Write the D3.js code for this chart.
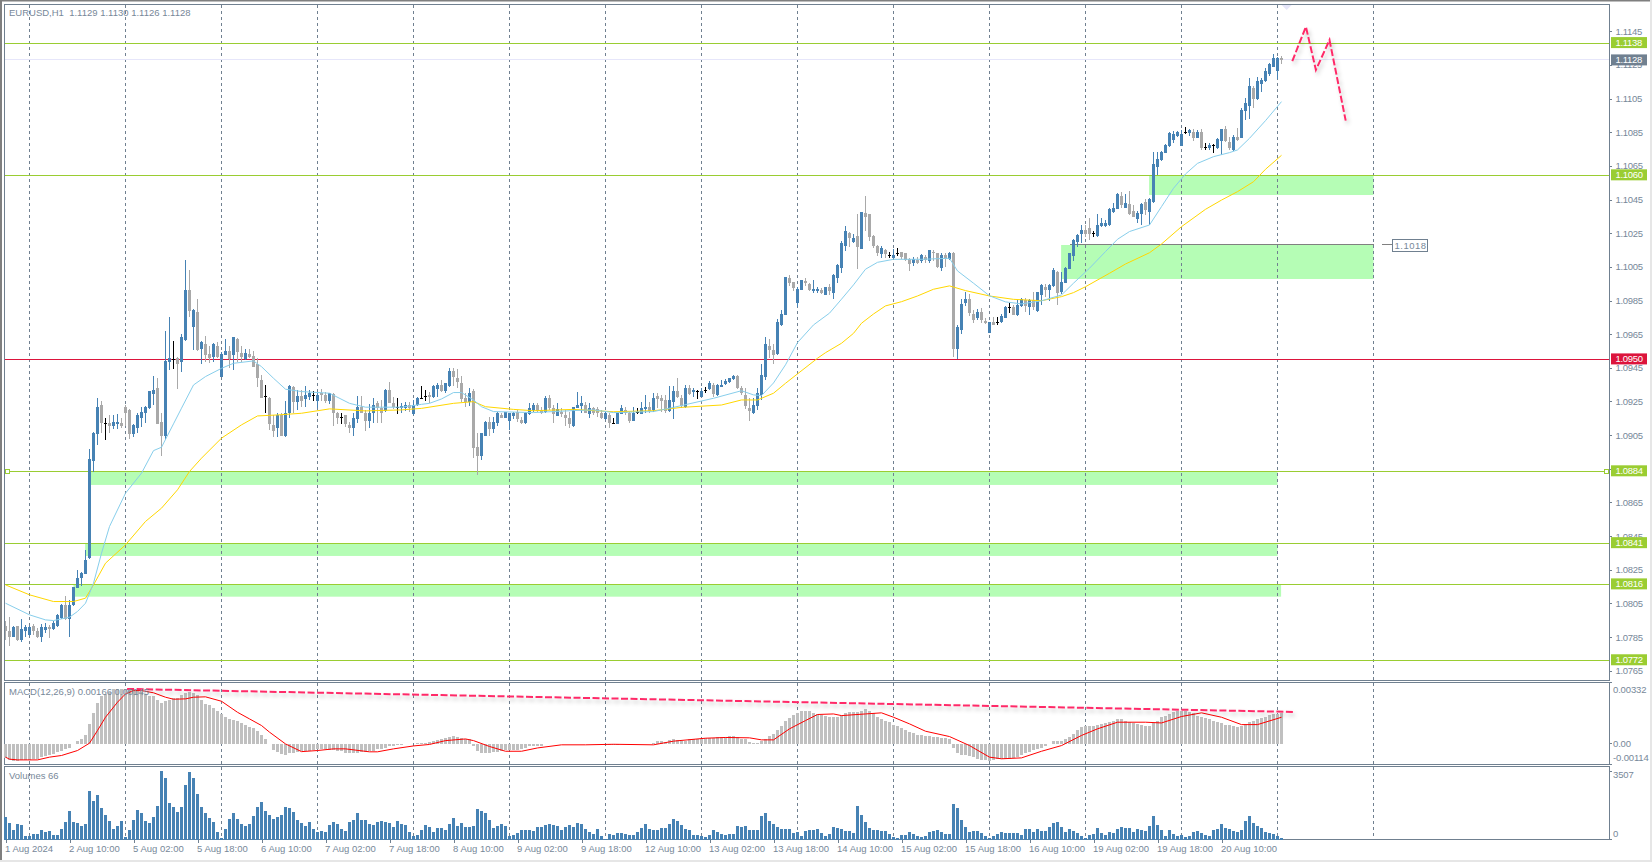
<!DOCTYPE html>
<html><head><meta charset="utf-8">
<script src="https://cdnjs.cloudflare.com/ajax/libs/d3/7.8.5/d3.min.js"></script>
<style>html,body{margin:0;padding:0;background:#fff;overflow:hidden}svg{display:block}</style>
</head><body><svg id="c" width="1652" height="862"></svg>
<script>
// Prices below are in points of 0.00001 (111280 = 1.11280); MACD too.
const opens=[
107917,107885,107853,107917,107834,107883,107863,107917,107883,107853,
107893,107909,107897,107913,107962,108041,107956,108041,108144,108198,
108226,108317,108899,109057,109230,109121,109121,109105,109117,109121,
109216,109200,109057,109095,109150,109184,109210,109295,109328,109129,
109045,109485,109503,109508,109485,109615,109913,109693,109782,109562,
109592,109532,109514,109580,109395,109526,109550,109526,109621,109538,
109502,109532,109520,109473,109378,109283,109271,109110,109092,109170,
109045,109182,109336,109247,109283,109265,109277,109289,109253,109300,
109289,109253,109294,109182,109158,109170,109110,109092,109146,109217,
109182,109134,109182,109241,109211,109193,109318,109241,109217,109211,
109211,109229,109176,109229,109271,109283,109289,109277,109324,109348,
109312,109342,109431,109390,109360,109271,109247,109312,108980,108926,
109045,109128,109086,109122,109170,109152,109134,109164,109188,109140,
109122,109176,109199,109229,109199,109188,109271,109211,109164,109188,
109170,109152,109104,109211,109223,109229,109176,109211,109205,109182,
109146,109170,109122,109116,109176,109199,109182,109134,109188,109176,
109205,109217,109199,109283,109271,109259,109193,109247,109312,109271,
109217,109330,109306,109312,109277,109318,109324,109348,109289,109336,
109354,109366,109384,109401,109330,109289,109211,109182,109223,109289,
109395,109580,109556,109532,109704,109764,109984,109960,109835,109913,
109966,109948,109907,109907,109913,109883,109930,109895,109984,110043,
110174,110251,110198,110233,110156,110370,110364,110233,110174,110127,
110150,110121,110103,110132,110138,110132,110097,110073,110091,110085,
110109,110085,110138,110132,110043,110121,110097,110132,109562,109675,
109835,109859,109770,109746,109782,109728,109657,109722,109722,109722,
109746,109812,109812,109764,109817,109853,109812,109853,109788,109883,
109930,109913,109936,110019,109901,109954,110037,110115,110198,110245,
110269,110281,110251,110233,110293,110293,110299,110376,110394,110471,
110400,110424,110382,110334,110364,110436,110376,110436,110644,110685,
110727,110768,110804,110828,110768,110851,110846,110851,110816,110851,
110762,110756,110774,110756,110798,110869,110792,110745,110822,110816,
110976,111006,111113,111048,111137,111155,111196,111238,111214,111291];
const highs=[
107947,107968,107917,107917,107956,107923,107917,107929,107903,107929,
107933,107923,107948,107988,108047,108091,108071,108150,108249,108237,
108368,108966,109069,109269,109255,109150,109170,109170,109176,109150,
109230,109204,109115,109180,109216,109224,109315,109402,109388,109180,
109669,109752,109609,109514,109651,110091,110031,109800,109859,109609,
109639,109580,109600,109603,109544,109621,109580,109633,109630,109580,
109562,109562,109550,109508,109407,109348,109277,109170,109182,109182,
109253,109348,109342,109318,109318,109342,109318,109312,109306,109324,
109306,109300,109300,109188,109182,109170,109128,109182,109283,109283,
109199,109235,109271,109253,109259,109324,109366,109277,109271,109241,
109247,109247,109259,109277,109342,109318,109306,109348,109360,109378,
109360,109449,109449,109443,109401,109300,109330,109324,109063,109063,
109134,109158,109158,109188,109182,109188,109182,109188,109199,109158,
109188,109241,109241,109241,109217,109283,109289,109229,109241,109211,
109199,109188,109217,109306,109283,109247,109241,109217,109217,109199,
109188,109182,109152,109182,109229,109217,109188,109217,109211,109247,
109289,109247,109300,109300,109289,109289,109342,109342,109390,109289,
109348,109348,109330,109318,109330,109336,109372,109360,109354,109378,
109384,109390,109407,109407,109342,109330,109271,109271,109330,109473,
109633,109621,109592,109740,109794,109990,110002,109960,109930,109972,
109984,109954,109972,109930,109924,109930,109948,110008,110067,110204,
110293,110257,110245,110364,110376,110471,110364,110239,110180,110174,
110156,110138,110156,110162,110138,110132,110103,110109,110109,110127,
110121,110150,110150,110132,110132,110132,110138,110138,109704,109859,
109901,109889,109794,109800,109806,109746,109722,109752,109752,109770,
109817,109835,109823,109853,109865,109865,109859,109901,109901,109948,
109948,109948,110043,110026,110019,110049,110132,110216,110245,110299,
110299,110340,110263,110364,110340,110329,110400,110430,110489,110495,
110483,110501,110418,110382,110430,110453,110459,110733,110733,110739,
110780,110851,110857,110857,110863,110881,110869,110869,110863,110869,
110786,110786,110780,110816,110869,110887,110822,110834,110875,110994,
111054,111172,111125,111178,111172,111232,111262,111315,111297,111303];
const lows=[
107834,107794,107849,107824,107822,107853,107859,107863,107843,107818,
107877,107846,107893,107909,107956,107952,107853,108036,108141,108154,
108224,108313,108832,108994,109061,109022,109065,109089,109085,109091,
109105,109026,109037,109065,109097,109125,109204,109230,109115,108927,
109021,109437,109443,109324,109425,109610,109752,109556,109550,109473,
109485,109479,109485,109508,109395,109526,109449,109437,109485,109485,
109496,109508,109455,109336,109271,109182,109080,109039,109039,109045,
109040,109152,109182,109199,109217,109217,109259,109253,109211,109253,
109241,109235,109104,109116,109116,109098,109063,109045,109122,109182,
109075,109092,109122,109122,109122,109188,109241,109205,109176,109182,
109193,109188,109170,109223,109265,109253,109241,109271,109277,109306,
109300,109336,109342,109330,109247,109217,109223,108914,108813,108902,
109045,109045,109063,109104,109152,109152,109080,109146,109128,109116,
109116,109170,109188,109188,109176,109182,109199,109122,109164,109158,
109104,109092,109098,109211,109182,109182,109152,109170,109158,109146,
109140,109092,109122,109116,109176,109170,109122,109134,109176,109176,
109182,109182,109188,109211,109188,109182,109188,109146,109271,109211,
109211,109289,109277,109265,109277,109300,109318,109277,109283,109336,
109348,109360,109378,109324,109289,109205,109134,109176,109199,109259,
109378,109508,109473,109526,109699,109764,109936,109907,109812,109913,
109936,109907,109895,109895,109889,109883,109883,109859,109954,110014,
110144,110168,110192,110037,110156,110263,110204,110162,110115,110103,
110103,110103,110097,110115,110097,110085,110026,110055,110067,110073,
110073,110073,110085,110043,110026,110049,110091,109514,109502,109651,
109817,109758,109716,109734,109716,109710,109657,109704,109704,109716,
109746,109776,109764,109758,109812,109782,109764,109794,109782,109823,
109871,109847,109930,109823,109889,109954,110037,110085,110168,110192,
110228,110210,110228,110228,110287,110287,110293,110370,110394,110400,
110400,110358,110346,110311,110299,110358,110299,110430,110596,110679,
110727,110762,110786,110822,110768,110840,110828,110798,110816,110745,
110745,110745,110727,110750,110715,110792,110745,110739,110798,110816,
110923,110929,110994,111042,111089,111149,111184,111238,111166,111256];
const closes=[
107883,107853,107909,107834,107897,107909,107909,107883,107853,107909,
107909,107897,107933,107982,108041,107956,108041,108146,108200,108232,
108309,108907,109061,109216,109121,109119,109105,109127,109127,109105,
109184,109057,109111,109170,109186,109216,109311,109319,109117,109045,
109491,109508,109500,109473,109633,109913,109788,109794,109556,109603,
109526,109508,109592,109514,109532,109550,109502,109633,109544,109514,
109538,109514,109455,109390,109271,109280,109116,109075,109170,109045,
109182,109342,109247,109283,109253,109289,109300,109287,109289,109289,
109253,109300,109182,109152,109155,109116,109092,109152,109217,109182,
109134,109182,109229,109211,109182,109318,109241,109217,109215,109223,
109229,109211,109229,109271,109269,109281,109277,109342,109348,109312,
109360,109431,109395,109366,109265,109247,109300,108974,108926,109063,
109128,109086,109128,109182,109152,109188,109182,109182,109146,109122,
109182,109211,109229,109193,109182,109271,109211,109176,109205,109176,
109152,109116,109217,109229,109241,109182,109211,109182,109182,109152,
109182,109122,109120,109182,109211,109182,109134,109182,109186,109211,
109217,109193,109271,109265,109253,109193,109259,109312,109277,109223,
109330,109294,109318,109310,109312,109316,109360,109294,109348,109348,
109372,109390,109401,109330,109300,109223,109193,109229,109300,109407,
109592,109556,109526,109722,109770,109990,109954,109925,109918,109972,
109954,109913,109918,109918,109895,109930,109907,110002,110061,110192,
110263,110222,110222,110168,110376,110346,110228,110174,110132,110162,
110127,110119,110121,110130,110109,110091,110067,110097,110073,110121,
110091,110150,110132,110049,110121,110097,110132,109562,109693,109829,
109859,109776,109734,109782,109734,109716,109722,109704,109720,109758,
109812,109810,109764,109823,109859,109817,109853,109812,109901,109942,
109913,109942,110031,109895,109960,110043,110132,110210,110239,110269,
110245,110245,110249,110299,110311,110311,110394,110400,110483,110418,
110430,110364,110346,110370,110424,110388,110453,110661,110691,110733,
110774,110846,110840,110851,110840,110849,110863,110816,110851,110756,
110760,110774,110772,110810,110869,110798,110756,110822,110804,110982,
111024,111125,111048,111155,111161,111214,111256,111291,111291,111280];
const volumes=[
1152,843,499,774,740,172,172,258,275,482,
396,430,241,241,533,894,1462,894,843,705,
791,2494,1978,2288,1617,1256,946,533,705,946,
120,482,998,1514,1359,946,843,1152,1720,3507,
3165,1875,1668,1410,1668,2804,3480,3165,2339,1668,
1359,1101,894,378,69,533,1049,1359,1049,791,
688,791,1204,1668,1926,1462,1256,1049,1152,1256,
1668,1617,1410,998,843,688,894,533,378,430,
378,740,894,791,533,430,894,998,1359,998,
998,791,740,894,946,894,843,636,946,791,
740,378,172,224,482,740,636,378,585,585,
482,791,1101,688,843,636,636,688,1565,1462,
1359,998,585,688,791,688,172,224,327,482,
482,482,430,636,636,740,791,740,688,499,
636,740,654,826,791,516,396,275,516,172,
40,275,241,327,327,258,241,241,378,585,
791,533,482,482,568,602,808,1049,946,740,
533,482,224,224,172,120,224,482,378,275,
241,275,275,688,636,688,482,482,482,1204,
1359,946,791,636,533,533,533,327,378,172,
430,482,482,533,327,172,275,636,585,533,
430,430,327,1720,1256,894,585,482,482,430,
430,275,120,69,224,224,378,275,172,120,
172,378,430,482,378,275,275,1823,1617,998,
636,378,430,430,327,172,69,172,275,378,
327,327,327,327,224,533,533,378,533,430,
430,636,843,894,636,378,533,430,327,172,
69,224,275,585,327,224,378,327,533,636,
585,585,378,533,482,430,688,1204,740,482,
172,482,275,172,224,120,172,378,430,327,
224,172,482,533,791,585,533,430,378,482,
946,1204,843,688,585,378,327,275,172,66];
const macdHist=[
-78,-92,-96,-96,-92,-92,-89,-85,-82,-74,
-67,-60,-56,-47,-38,-31,-24,-4,13,27,
47,107,165,219,256,270,283,297,299,299,
299,299,299,288,279,270,261,259,238,219,
230,238,245,248,263,277,283,277,265,238,
216,207,194,179,161,143,136,129,125,112,
103,92,82,67,44,22,-2,-33,-44,-56,
-63,-53,-49,-44,-42,-38,-38,-33,-29,-27,
-31,-33,-34,-38,-42,-49,-53,-51,-49,-45,
-44,-42,-38,-31,-27,-24,-16,-13,-9,-9,
-5,-5,-2,5,2,4,7,13,20,24,
29,34,40,38,31,27,24,-11,-38,-49,
-49,-53,-47,-44,-38,-34,-34,-34,-33,-31,
-24,-16,-13,-13,-11,-5,-5,-5,-5,-4,
-4,-5,-4,-2,-2,-2,-2,-2,-4,-5,
-7,-7,-9,-7,-5,-5,-9,-5,-4,-2,
-2,0,4,13,16,11,18,22,20,16,
16,24,27,27,27,29,29,29,33,34,
38,42,42,34,27,22,7,2,5,13,
25,42,53,74,96,125,140,154,165,176,
176,176,165,158,156,150,143,143,145,156,
165,174,174,169,179,187,176,167,147,134,
125,116,103,94,85,74,63,56,49,44,
40,40,38,34,29,29,25,-25,-51,-60,
-60,-69,-74,-82,-89,-92,-96,-92,-85,-85,
-85,-83,-80,-71,-60,-54,-44,-34,-27,-24,
-11,-2,13,13,16,27,38,53,71,89,
98,98,98,103,109,111,116,125,131,131,
125,116,111,105,102,98,96,111,125,143,
149,161,172,176,179,179,170,167,152,147,
138,131,123,116,114,103,100,94,89,94,
105,116,125,134,138,143,154,158,161,166];

// Moving averages and MACD signal, read as vertices: bar number, then value.
const maFastBars=[0,6,10,12,16,18,20,22,24,26,30,34,37,39,42,44,47,50,54,57,62,64,67,70,74,81,86,90,99,104,106,109,112,114,117,119,122,132,142,147,152,162,167,177,184,187,189,192,195,198,202,206,209,212,215,218,222,229,236,238,242,246,250,254,259,264,267,271,275,278,281,286,289,292,295,298,302,306,308,311,315,319];
const maFastVals=[108051,107982,107952,107948,107968,108002,108051,108170,108348,108507,108705,108824,108958,108978,109117,109210,109348,109398,109447,109477,109491,109457,109388,109323,109309,109299,109239,109216,109216,109233,109239,109265,109303,109303,109259,109219,109190,109184,109196,109200,109184,109190,109215,109269,109314,109289,109285,109360,109468,109600,109705,109775,109858,109943,110036,110077,110095,110095,110101,110026,109953,109878,109842,109830,109848,109883,109953,110042,110141,110214,110260,110299,110408,110517,110602,110665,110705,110729,110745,110814,110919,111032];
const maSlowBars=[0,6,12,17,20,22,25,30,35,39,43,46,49,54,59,63,68,74,81,90,99,104,112,117,120,127,132,142,152,162,169,179,184,188,192,195,198,203,205,209,212,214,217,220,224,228,232,236,240,246,252,259,264,267,270,276,280,286,289,294,300,304,308,312,315,319];
const maSlowVals=[108160,108101,108061,108061,108081,108160,108289,108398,108537,108616,108725,108834,108913,109032,109111,109164,109170,109180,109206,109194,109200,109209,109239,109249,109219,109203,109195,109203,109189,109195,109215,109229,109259,109259,109299,109358,109414,109507,109540,109596,109655,109715,109770,109818,109843,109877,109917,109937,109909,109877,109857,109849,109873,109897,109932,110012,110067,110134,110186,110289,110392,110447,110497,110556,110630,110713];
const macdSigBars=[0,1,3,8,11,14,18,21,23,25,28,30,32,34,37,40,42,45,47,50,54,58,61,64,66,70,74,78,82,85,91,93,97,102,106,110,115,117,121,125,129,133,139,145,152,162,167,175,180,186,189,192,196,200,203,207,209,215,219,222,226,230,236,241,246,249,254,259,264,269,273,278,285,289,294,299,304,309,313,319];
const macdSigVals=[-74,-85,-89,-89,-74,-65,-38,2,71,143,225,270,288,288,276,252,241,243,252,254,230,170,134,98,62,-2,-44,-38,-29,-29,-45,-45,-29,-13,-5,16,25,16,-16,-42,-42,-24,-7,-7,-4,-7,13,29,33,31,20,20,80,125,158,161,152,161,167,143,107,67,38,-11,-74,-83,-78,-42,-11,44,80,116,116,112,147,167,143,103,103,143];

// Horizontal levels and hand-drawn objects
const levelVals=[111380,110594,109500,108835,108408,108163,107712];
const levelLabels=["1.1138","1.1060","1.0950","1.0884","1.0841","1.0816","1.0772"];
const levelIsRed=[false,false,true,false,false,false,false];
const zoneBarFrom=[21.3,19.9,17,285.9,263.9];
const zoneBarTo=[318,318,318.9,342,342];
const zoneTop=[108835,108408,108163,110594,110180];
const zoneBottom=[108754,108332,108090,110477,109978];
const forecastBars=[321.7,325.1,327.6,331,335.05];
const forecastVals=[111273,111477,111220,111398,110919];
const divergenceBars=[30.4,322];
const divergenceVals=[297,172];
const hLineBars=[266,342];
const hLineVal=110180;
const gridBars=[6,30,54,78,102,126,150,174,198,222,246,270,294,318,342];
const priceTicks=[111450,111250,111050,110850,110650,110450,110250,110050,109850,109650,109450,109250,109050,108850,108650,108450,108250,108050,107850,107650];
const timeBars=[0,16,32,48,64,80,96,112,128,144,160,176,192,208,224,240,256,272,288,304];
const timeLabels=["1 Aug 2024","2 Aug 10:00","5 Aug 02:00","5 Aug 18:00","6 Aug 10:00","7 Aug 02:00","7 Aug 18:00","8 Aug 10:00","9 Aug 02:00","9 Aug 18:00","12 Aug 10:00","13 Aug 02:00","13 Aug 18:00","14 Aug 10:00","15 Aug 02:00","15 Aug 18:00","16 Aug 10:00","19 Aug 02:00","19 Aug 18:00","20 Aug 10:00"];

const FONT="'Liberation Sans',Arial,sans-serif", TXT="#778899", SLATE="#708090",
      BLUE="#4682B4", GRAY="#A9A9A9", GREEN="#9ACD32", RED="#DC143C", ZONE="#B5FDB5", PINK="#FF2A68";
const L=4.5,R=1609.5,FS=9.5;
const svg=d3.select("#c");
const x=d3.scaleLinear().domain([0,319]).range([5.5,1281.5]);
const y=d3.scaleLinear().domain([111450,107650]).range([31.3,670.7]);
const ym=d3.scaleLinear().domain([-114,332]).range([764.5,682.5]);
const yv=d3.scaleLinear().domain([0,3507]).range([839.5,771]);

const defs=svg.append("defs");
const f=defs.append("filter").attr("id","sh").attr("filterUnits","userSpaceOnUse")
  .attr("x",0).attr("y",0).attr("width",1652).attr("height",862);
f.append("feDropShadow").attr("dx",2).attr("dy",3).attr("stdDeviation",2).attr("flood-color","#000").attr("flood-opacity",.22);

// frame
svg.append("rect").attr("width",1652).attr("height",862).attr("fill","#fff");
svg.append("rect").attr("x",0).attr("y",0).attr("width",2).attr("height",862).attr("fill","#7f7f7f");
svg.append("rect").attr("x",0).attr("y",0).attr("width",1652).attr("height",1.5).attr("fill","#7f7f7f");
svg.append("rect").attr("x",1650).attr("y",0).attr("width",2).attr("height",862).attr("fill","#e6e6e6");
svg.append("rect").attr("x",0).attr("y",860).attr("width",1652).attr("height",2).attr("fill","#e6e6e6");

// zones
svg.append("g").selectAll("rect").data(zoneTop).join("rect")
  .attr("x",(d,i)=>x(zoneBarFrom[i])).attr("width",(d,i)=>x(zoneBarTo[i])-x(zoneBarFrom[i]))
  .attr("y",d=>y(d)).attr("height",(d,i)=>y(zoneBottom[i])-y(d)).attr("fill",ZONE);

// vertical dashed grid
svg.append("g").selectAll("line").data(gridBars).join("line")
  .attr("x1",d=>x(d)).attr("x2",d=>x(d)).attr("y1",5).attr("y2",839)
  .attr("stroke",SLATE).attr("stroke-dasharray","3,3").attr("shape-rendering","crispEdges");

// current price line
svg.append("line").attr("x1",L).attr("x2",R).attr("y1",y(closes[319])).attr("y2",y(closes[319])).attr("stroke","#E6E6FA").attr("shape-rendering","crispEdges");
// levels
svg.append("g").selectAll("line").data(levelVals).join("line")
  .attr("x1",L).attr("x2",R).attr("y1",d=>y(d)).attr("y2",d=>y(d))
  .attr("stroke",(d,i)=>levelIsRed[i]?RED:GREEN).attr("shape-rendering","crispEdges");
// level handles
svg.append("rect").attr("x",5.5).attr("y",y(108835)-2).attr("width",4).attr("height",4).attr("fill","#fff").attr("stroke",GREEN).attr("shape-rendering","crispEdges");
svg.append("rect").attr("x",1604.5).attr("y",y(108835)-2).attr("width",4).attr("height",4).attr("fill","#fff").attr("stroke",GREEN).attr("shape-rendering","crispEdges");

// horizontal trend object with label
svg.append("line").attr("x1",x(hLineBars[0])).attr("x2",x(hLineBars[1])).attr("y1",y(hLineVal)).attr("y2",y(hLineVal)).attr("stroke","#808080").attr("shape-rendering","crispEdges");
svg.append("line").attr("x1",1382).attr("x2",1392).attr("y1",y(hLineVal)).attr("y2",y(hLineVal)).attr("stroke","#808080").attr("shape-rendering","crispEdges");
svg.append("rect").attr("x",1392.5).attr("y",239.5).attr("width",35).attr("height",11.5).attr("fill","#fff").attr("stroke",SLATE).attr("shape-rendering","crispEdges");
svg.append("text").attr("x",1394.5).attr("y",249).attr("font-family",FONT).attr("font-size",FS).attr("letter-spacing",.5).attr("fill",TXT).text("1.1018");

// lavender arrow at the top
svg.append("path").attr("d",d3.line()([[x(320.3)-5,5],[x(320.3)+5,5],[x(320.3),10]])+"Z").attr("fill","#E6E6FA");

// candles
const idx=d3.range(closes.length);
const isDoji=i=>Math.abs(opens[i]-closes[i])<=3;
const col=i=>isDoji(i)?"#000":closes[i]>opens[i]?BLUE:GRAY;
const cg=svg.append("g").attr("shape-rendering","crispEdges");
cg.selectAll("line.w").data(idx).join("line").attr("class","w")
  .attr("x1",i=>x(i)).attr("x2",i=>x(i)).attr("y1",i=>y(highs[i])).attr("y2",i=>y(lows[i])).attr("stroke",col);
cg.selectAll("rect").data(idx).join("rect")
  .attr("x",i=>x(i)-1.5).attr("width",3)
  .attr("y",i=>y(Math.max(opens[i],closes[i])))
  .attr("height",i=>Math.max(1,y(Math.min(opens[i],closes[i]))-y(Math.max(opens[i],closes[i]))))
  .attr("fill",col);

// moving averages
const lineOf=(xs,sc)=>d3.line().x((d,i)=>x(xs[i])).y(d=>sc(d));
svg.append("path").attr("d",lineOf(maSlowBars,y)(maSlowVals)).attr("fill","none").attr("stroke","#FFD700");
svg.append("path").attr("d",lineOf(maFastBars,y)(maFastVals)).attr("fill","none").attr("stroke","#87CEEB");

// forecast
svg.append("path").attr("d",lineOf(forecastBars,y)(forecastVals)).attr("fill","none").attr("stroke",PINK).attr("stroke-width",2).attr("stroke-dasharray","7,2.5").attr("filter","url(#sh)");

// panels borders
const panel=(t,b)=>svg.append("rect").attr("x",L).attr("y",t).attr("width",R-L).attr("height",b-t).attr("fill","none").attr("stroke",SLATE).attr("shape-rendering","crispEdges");
panel(4.5,680.5);panel(682.5,764.5);panel(766.5,839.5);

// MACD
svg.append("g").attr("shape-rendering","crispEdges").selectAll("rect").data(macdHist).join("rect")
  .attr("x",(d,i)=>x(i)-1.5).attr("width",3)
  .attr("y",d=>ym(Math.max(d,0))).attr("height",d=>Math.abs(ym(d)-ym(0)))
  .attr("fill","#C0C0C0");
svg.append("path").attr("d",lineOf(macdSigBars,ym)(macdSigVals)).attr("fill","none").attr("stroke","#FF0000");
svg.append("path").attr("d",lineOf(divergenceBars,ym)(divergenceVals)).attr("fill","none").attr("stroke",PINK).attr("stroke-width",2).attr("stroke-dasharray","7,2.5").attr("filter","url(#sh)");

// volumes
svg.append("g").attr("shape-rendering","crispEdges").selectAll("rect").data(volumes).join("rect")
  .attr("x",(d,i)=>x(i)-1.5).attr("width",3)
  .attr("y",d=>yv(d)).attr("height",d=>yv(0)-yv(d)).attr("fill",BLUE);

// axes
const styleAxis=g=>{g.select(".domain").remove();g.selectAll("line").attr("stroke",SLATE).attr("shape-rendering","crispEdges");
  g.selectAll("text").attr("font-family",FONT).attr("font-size",FS).attr("fill",TXT);};
svg.append("g").attr("transform",`translate(${R},0)`)
  .call(d3.axisRight(y).tickValues(priceTicks).tickSize(2).tickPadding(4).tickFormat(d=>(d/1e5).toFixed(4))).call(styleAxis)
  .selectAll("text").attr("letter-spacing",-.3);
svg.append("g").attr("transform","translate(0,839.5)")
  .call(d3.axisBottom(x).tickValues(timeBars).tickSize(3).tickPadding(3).tickFormat((d,i)=>timeLabels[i])).call(styleAxis)
  .selectAll("text").attr("text-anchor","start").attr("dx",-1);

// sub-window scale labels
const sub=[["0.00332",ym(332),7],["0.00",ym(0),0],["-0.00114",ym(-114),-7],["3507",yv(3507),3],["0",yv(0),-6.5]];
svg.append("g").selectAll("text").data(sub).join("text")
  .attr("x",1613).attr("y",d=>d[1]+d[2]+3.5).attr("font-family",FONT).attr("font-size",FS).attr("letter-spacing",-.15).attr("fill",TXT).text(d=>d[0]);
svg.append("g").selectAll("line").data(sub).join("line")
  .attr("x1",R).attr("x2",R+2).attr("y1",d=>d[1]).attr("y2",d=>d[1]).attr("stroke",SLATE).attr("shape-rendering","crispEdges");

// level badges
svg.append("rect").attr("x",1611).attr("width",36).attr("y",y(closes[319])-5.5).attr("height",11).attr("fill",SLATE);
svg.append("text").attr("x",1615.5).attr("y",y(closes[319])+3.5).attr("font-family",FONT).attr("font-size",FS).attr("letter-spacing",-.3).attr("fill","#fff").text("1.1128");
const bad=svg.append("g").selectAll("g").data(levelVals).join("g");
bad.append("rect").attr("x",1611).attr("width",36).attr("y",d=>y(d)-6).attr("height",11).attr("fill",(d,i)=>levelIsRed[i]?RED:GREEN);
bad.append("text").attr("x",1615.5).attr("y",d=>y(d)+3).attr("font-family",FONT).attr("font-size",FS).attr("letter-spacing",-.3).attr("fill","#fff").text((d,i)=>levelLabels[i]);

// window captions
const cap=(t,yy)=>svg.append("text").attr("x",9).attr("y",yy).attr("xml:space","preserve").attr("font-family",FONT).attr("font-size",FS).attr("fill",TXT).text(t);
cap("EURUSD,H1  1.1129 1.1130 1.1126 1.1128",16);
cap("MACD(12,26,9) 0.00166 0.00145",695);
cap("Volumes 66",779);
</script></body></html>
